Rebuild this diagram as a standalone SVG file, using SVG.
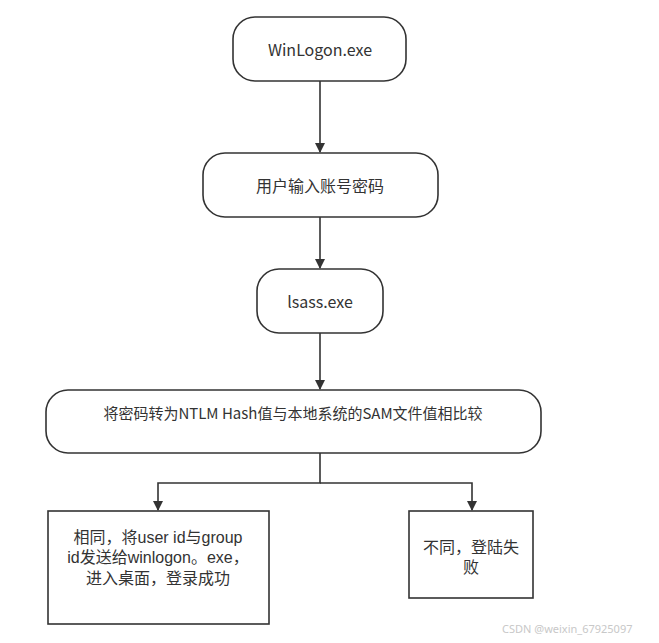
<svg xmlns="http://www.w3.org/2000/svg" width="659" height="643" viewBox="0 0 659 643">
<style>
.n{fill:#fff;stroke:#333;stroke-width:1.6}
.t{font-family:"Noto Sans CJK SC","Noto Sans",sans-serif;font-size:16px;fill:#333;text-anchor:middle;dominant-baseline:central}
.m{font-family:"Liberation Sans","Noto Sans CJK SC",sans-serif;font-size:16px;fill:#333;text-anchor:middle}
.c{fill:none;stroke:#333;stroke-width:1.6}
.w{font-family:"Noto Sans","Liberation Sans",sans-serif;font-size:11px;fill:#c8c8c8}
</style>
<defs>
<marker id="a" markerWidth="10" markerHeight="10" refX="9" refY="5" orient="auto" markerUnits="userSpaceOnUse">
<path d="M0,0 L10,5 L0,10 Z" fill="#333"/>
</marker>
</defs>
<rect width="659" height="643" fill="#fff"/>
<g id="connectors">
<path class="c" d="M320,81 V152" marker-end="url(#a)"/>
<path class="c" d="M320,217 V268" marker-end="url(#a)"/>
<path class="c" d="M320,333 V389" marker-end="url(#a)"/>
<path class="c" d="M320,453 V483 H158 V510" marker-end="url(#a)"/>
<path class="c" d="M320,483 H472 V510" marker-end="url(#a)"/>
</g>
<g id="n1"><rect class="n" x="233" y="17" width="173" height="64" rx="22"/><text class="t" x="320" y="49">WinLogon.exe</text></g>
<g id="n2"><rect class="n" x="203" y="153" width="235" height="64" rx="22"/><text class="t" x="320" y="185">用户输入账号密码</text></g>
<g id="n3"><rect class="n" x="257" y="269" width="126" height="64" rx="22"/><text class="t" x="320" y="301">lsass.exe</text></g>
<g id="n4"><rect class="n" x="46" y="390" width="495" height="63" rx="22"/><text class="t" x="293" y="412" style="font-size:15px">将密码转为NTLM Hash值与本地系统的SAM文件值相比较</text></g>
<g id="n5"><rect class="n" x="48" y="511" width="221" height="113"/>
<text class="m" x="158" y="543">相同，将user id与group</text>
<text class="m" x="158" y="563">id发送给winlogon。exe，</text>
<text class="m" x="158" y="584">进入桌面，登录成功</text></g>
<g id="n6"><rect class="n" x="409" y="511" width="124" height="87"/>
<text class="m" x="471" y="553">不同，登陆失</text>
<text class="m" x="471" y="573">败</text></g>
<text class="w" x="502" y="633">CSDN @weixin_67925097</text>
</svg>
